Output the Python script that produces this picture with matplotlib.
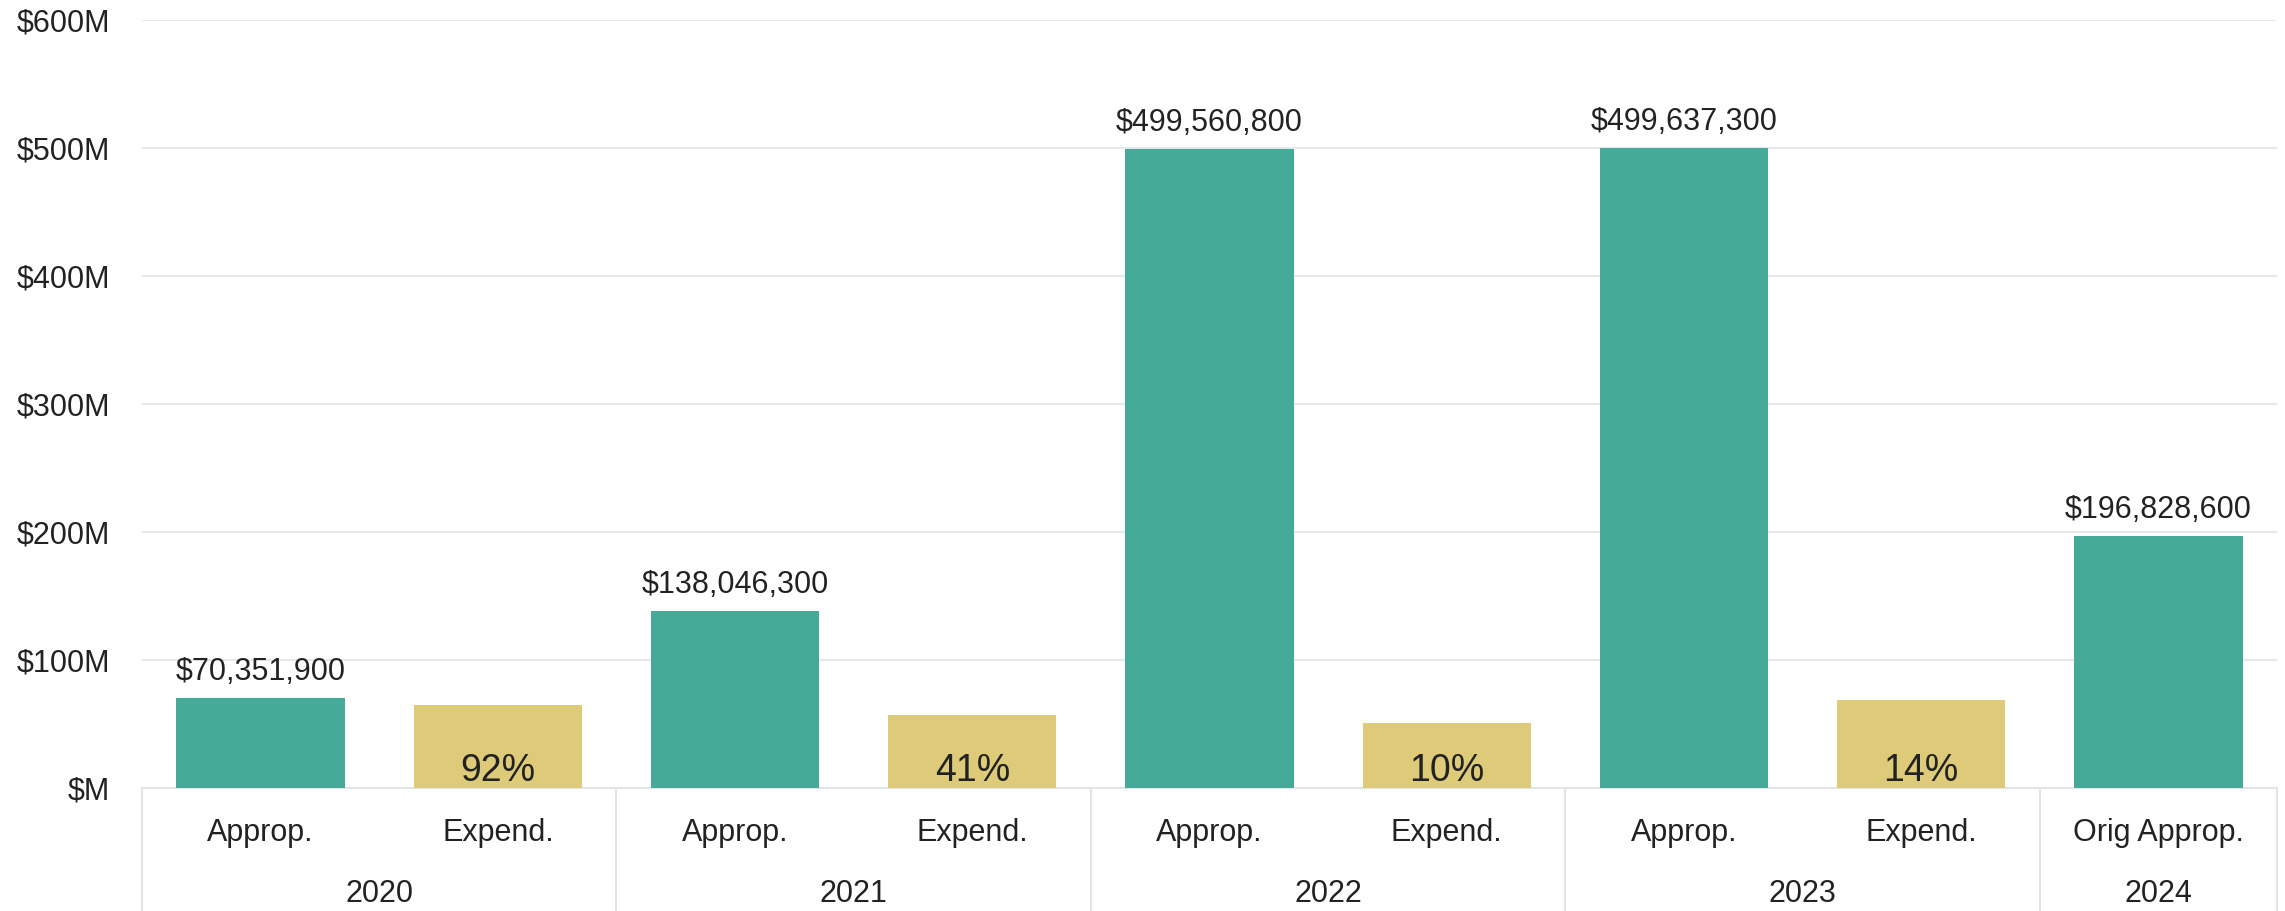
import matplotlib
matplotlib.use("Agg")
import matplotlib.pyplot as plt
import matplotlib.transforms as mtransforms

plt.rcParams['font.family'] = ['Liberation Sans', 'DejaVu Sans']

# data
years = ["2020", "2021", "2022", "2023", "2024"]
approp = [70351900, 138046300, 499560800, 499637300, 196828600]
approp_names = ["Approp.", "Approp.", "Approp.", "Approp.", "Orig Approp."]
expend = [64.6e6, 57.0e6, 51.0e6, 68.7e6]
expend_pct = ["92%", "41%", "10%", "14%"]
expend_name = "Expend."
yticks = [0, 100e6, 200e6, 300e6, 400e6, 500e6, 600e6]
ytick_labels = ["$M", "$100M", "$200M", "$300M", "$400M", "$500M", "$600M"]

teal = "#46AA99"
gold = "#DDCB79"
grid_col = "#E1E5E8"
text_col = "#222222"

fig = plt.figure(figsize=(22.85, 9.11), dpi=100)
ax = fig.add_axes([142 / 2285, 123 / 911, 2135 / 2285, 768 / 911])

# positions: approp on even slots, expend in between
ap_x = [2 * i for i in range(len(approp))]
ex_x = [2 * i + 1 for i in range(len(expend))]
width = 0.71

ax.bar(ap_x, approp, width=width, color=teal, zorder=3)
ax.bar(ex_x, expend, width=width, color=gold, zorder=3)

for x, v in zip(ap_x, approp):
    ax.annotate(f"${v:,.0f}", (x, v), xytext=(0, 13), textcoords="offset points",
                ha="center", va="baseline", fontsize=22, color=text_col)

for x, p in zip(ex_x, expend_pct):
    ax.annotate(p, (x, 0), xytext=(0, 5), textcoords="offset points",
                ha="center", va="baseline", fontsize=27, color=text_col, zorder=4)

ax.set_xlim(-0.5, 8.5)
ax.set_ylim(0, 600e6)
ax.set_yticks(yticks)
ax.set_yticklabels(ytick_labels, fontsize=22, color=text_col)
ax.tick_params(axis="y", length=0, pad=23)
ax.set_xticks([])
ax.grid(axis="y", color=grid_col, linewidth=1.2, zorder=0)

for side in ["top", "right", "left"]:
    ax.spines[side].set_visible(False)
ax.spines["bottom"].set_color(grid_col)
ax.spines["bottom"].set_linewidth(1.5)

# two-level category axis below the plot
trans = mtransforms.blended_transform_factory(ax.transData, ax.transAxes)
for x, name in zip(ap_x, approp_names):
    ax.text(x, -0.069, name, transform=trans, ha="center", va="baseline",
            fontsize=22, color=text_col)
for x in ex_x:
    ax.text(x, -0.069, expend_name, transform=trans, ha="center", va="baseline",
            fontsize=22, color=text_col)

for i, yr in enumerate(years):
    xc = 2 * i + 0.5 if i < len(expend) else 2 * i
    ax.text(xc, -0.1484, yr, transform=trans, ha="center", va="baseline",
            fontsize=22, color=text_col)

seps = [-0.5, 1.5, 3.5, 5.5, 7.5, 8.5]
for s in seps:
    ax.plot([s, s], [0, -0.17], transform=trans, color=grid_col,
            linewidth=1.5, clip_on=False)

fig.savefig("out.png", dpi=100)
